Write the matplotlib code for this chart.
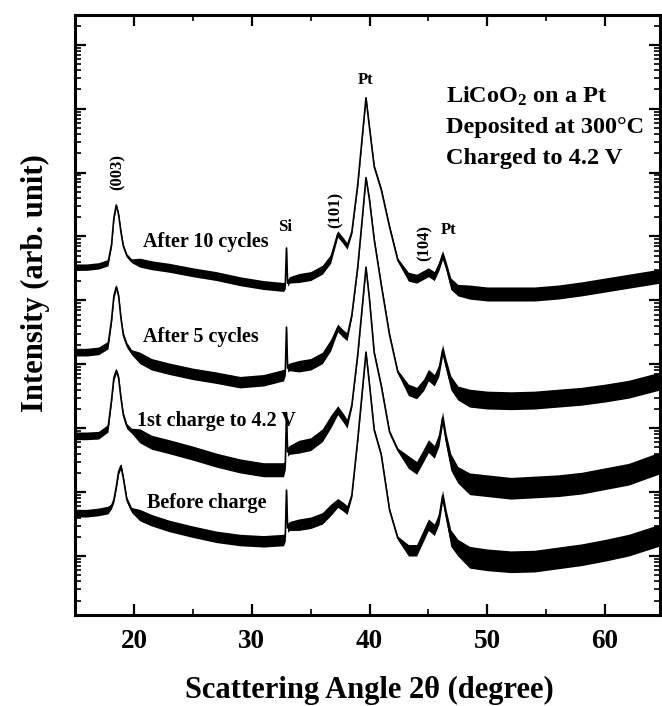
import numpy as np
import matplotlib
matplotlib.use("Agg")
import matplotlib.pyplot as plt
from matplotlib.ticker import LogLocator, MultipleLocator, NullFormatter

plt.rcParams['font.family'] = ['Liberation Serif', 'DejaVu Serif']
plt.rcParams['font.weight'] = 'bold'
plt.rcParams['mathtext.fontset'] = 'custom'
plt.rcParams['mathtext.rm'] = 'Liberation Serif:bold'
plt.rcParams['mathtext.it'] = 'Liberation Serif:bold:italic'
plt.rcParams['mathtext.bf'] = 'Liberation Serif:bold'
plt.rcParams['mathtext.default'] = 'rm'

# ---- data: scattering angle (deg) and log10 intensity (arb.) per pattern ----
two_theta = [15.0, 16.0, 17.0, 17.8, 18.1, 18.3, 18.5, 18.7, 18.9, 19.1,
             19.4, 19.8, 20.5, 21.5, 23.0, 25.0, 27.0, 29.0, 31.0, 32.7,
             32.85, 32.95, 33.05, 33.2, 34.0, 35.0, 36.0, 36.7, 37.3, 37.7,
             38.1, 38.5, 39.0, 39.4, 39.7, 40.0, 40.4, 41.0, 41.7, 42.4,
             43.3, 44.0, 44.6, 45.0, 45.5, 45.9, 46.2, 46.5, 46.9, 47.5,
             48.5, 50.0, 52.0, 54.0, 56.0, 58.0, 60.0, 62.0, 64.7]

log_after10 = [4.52, 4.52, 4.54, 4.59, 4.87, 5.29, 5.49, 5.34, 5.07, 4.85,
               4.70, 4.62, 4.59, 4.55, 4.51, 4.44, 4.38, 4.30, 4.24, 4.21,
               4.23, 4.82, 4.27, 4.32, 4.35, 4.38, 4.48, 4.65, 5.04, 4.95,
               4.85, 5.07, 5.81, 6.59, 7.17, 6.70, 6.09, 5.73, 5.15, 4.63,
               4.37, 4.34, 4.40, 4.44, 4.38, 4.54, 4.71, 4.54, 4.26, 4.16,
               4.13, 4.10, 4.10, 4.10, 4.13, 4.18, 4.24, 4.30, 4.38]

log_after5 = [3.19, 3.19, 3.21, 3.30, 3.69, 4.07, 4.21, 4.07, 3.72, 3.46,
              3.30, 3.19, 3.10, 3.00, 2.93, 2.85, 2.79, 2.72, 2.75, 2.83,
              2.88, 3.58, 2.94, 2.96, 2.97, 3.00, 3.10, 3.30, 3.57, 3.49,
              3.43, 3.77, 4.52, 5.31, 5.92, 5.57, 4.95, 4.24, 3.46, 2.88,
              2.60, 2.55, 2.68, 2.83, 2.75, 2.91, 3.22, 2.99, 2.71, 2.55,
              2.47, 2.44, 2.43, 2.44, 2.47, 2.50, 2.55, 2.61, 2.74]

log_first = [1.88, 1.88, 1.89, 2.00, 2.44, 2.79, 2.90, 2.79, 2.47, 2.21,
             2.03, 1.96, 1.88, 1.78, 1.71, 1.61, 1.50, 1.41, 1.35, 1.35,
             1.42, 2.24, 1.63, 1.66, 1.71, 1.75, 1.89, 2.10, 2.28, 2.18,
             2.07, 2.36, 3.15, 3.93, 4.52, 4.01, 3.18, 2.66, 1.94, 1.66,
             1.47, 1.38, 1.58, 1.72, 1.63, 1.82, 2.16, 1.82, 1.47, 1.27,
             1.13, 1.10, 1.06, 1.08, 1.10, 1.14, 1.21, 1.28, 1.46]

log_before = [0.67, 0.67, 0.69, 0.72, 0.78, 0.88, 1.08, 1.32, 1.41, 1.22,
              0.88, 0.72, 0.64, 0.56, 0.47, 0.38, 0.30, 0.25, 0.23, 0.25,
              0.30, 1.03, 0.44, 0.47, 0.49, 0.52, 0.59, 0.72, 0.83, 0.78,
              0.72, 0.95, 1.82, 2.60, 3.19, 2.68, 1.97, 1.58, 0.72, 0.28,
              0.09, 0.09, 0.33, 0.49, 0.41, 0.59, 0.94, 0.64, 0.28, 0.13,
              -0.02, -0.06, -0.09, -0.08, -0.03, 0.02, 0.09, 0.17, 0.33]

# noise half-width (decades)
seg = [4, 8, 8, 4, 4, 3, 9, 8, 2, 9]
noise_levels = {
    'after10': [0.05, 0.03, 0.07, 0.05, 0.07, 0.05, 0.03, 0.07, 0.09, 0.11],
    'after5':  [0.06, 0.04, 0.09, 0.06, 0.09, 0.06, 0.03, 0.09, 0.11, 0.14],
    'first':   [0.06, 0.04, 0.11, 0.07, 0.10, 0.07, 0.03, 0.10, 0.13, 0.17],
    'before':  [0.06, 0.04, 0.09, 0.07, 0.09, 0.07, 0.03, 0.09, 0.13, 0.17],
}

series = [('after10', log_after10), ('after5', log_after5),
          ('first', log_first), ('before', log_before)]

fig = plt.figure(figsize=(6.62, 7.06), dpi=100)
ax = fig.add_axes([0.1133, 0.1289, 0.8837, 0.8499])

x = np.array(two_theta)
for key, vals in series:
    d = np.array(vals)
    n = np.concatenate([[lv] * s for lv, s in zip(noise_levels[key], seg)])
    ax.fill_between(x, 10 ** (d - n), 10 ** (d + n), color='black', lw=0)
    ax.plot(x, 10 ** d, color='black', lw=1.2)

ax.set_yscale('log')
ax.set_ylim(10 ** -0.923, 10 ** 8.466)
ax.set_xlim(15, 64.66)
ax.yaxis.set_major_locator(LogLocator(base=10, numticks=30))
ax.yaxis.set_minor_locator(LogLocator(base=10, subs=np.arange(2, 10), numticks=30))
ax.yaxis.set_major_formatter(NullFormatter())
ax.yaxis.set_minor_formatter(NullFormatter())
ax.xaxis.set_major_locator(MultipleLocator(10))
ax.xaxis.set_minor_locator(MultipleLocator(5))
ax.tick_params(which='both', direction='in', top=True, right=True)
ax.tick_params(which='major', length=8, width=1.6, labelsize=19.5, pad=10)
ax.tick_params(which='minor', length=4, width=1.2)
for sp in ax.spines.values():
    sp.set_linewidth(2.2)
for lab in ax.get_xticklabels():
    lab.set_fontweight('bold')

ax.set_xlabel('Scattering Angle 2θ (degree)', fontsize=22, fontweight='bold', va='center')
ax.xaxis.set_label_coords(0.504, -0.125)
ax.set_ylabel('Intensity (arb. unit)', fontsize=22, fontweight='bold', va='center')
ax.yaxis.set_label_coords(-0.068, 0.553)

tA = ax.transAxes
info = ['LiCoO$_2$ on a Pt', 'Deposited at 300°C', 'Charged to 4.2 V']
for i, s in enumerate(info):
    ax.text(0.634, 0.865 - 0.052 * i, s, transform=tA, fontsize=17.5,
            fontweight='bold', ha='left', va='center')

trace_labels = [('After 10 cycles', 0.116, 0.622), ('After 5 cycles', 0.116, 0.463),
                ('1st charge to 4.2 V', 0.106, 0.323), ('Before charge', 0.123, 0.187)]
for s, tx, ty in trace_labels:
    ax.text(tx, ty, s, transform=tA, fontsize=14.5, fontweight='bold',
            ha='left', va='center')

peak_labels = [('(003)', 0.0735, 0.738, 90), ('Si', 0.359, 0.647, 0),
               ('(101)', 0.446, 0.675, 90), ('Pt', 0.497, 0.892, 0),
               ('(104)', 0.597, 0.620, 90), ('Pt', 0.638, 0.642, 0)]
for s, tx, ty, rot in peak_labels:
    ax.text(tx, ty, s, transform=tA, fontsize=12, fontweight='bold',
            ha='center', va='center', rotation=rot)

fig.savefig('out.png', dpi=100)
